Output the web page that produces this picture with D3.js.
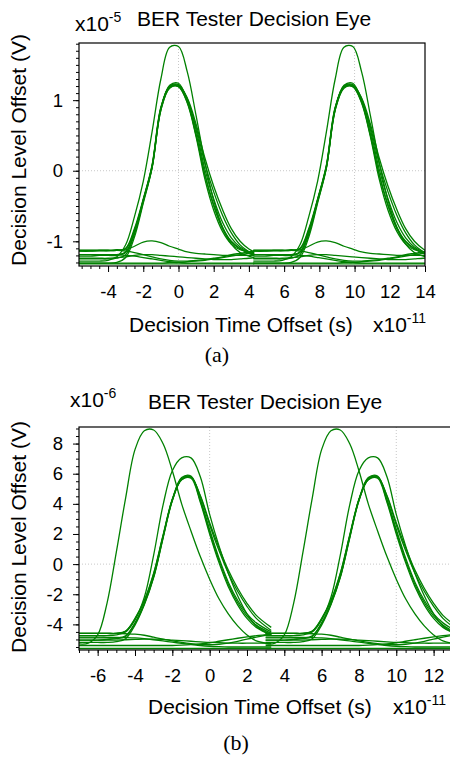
<!DOCTYPE html>
<html>
<head>
<meta charset="utf-8">
<title>BER Tester Decision Eye</title>
<script src="https://cdnjs.cloudflare.com/ajax/libs/d3/7.8.5/d3.min.js"></script>
<style>
  body { margin: 0; background: #fff; }
  svg { display: block; font-family: "Liberation Sans", Arial, sans-serif; }
  .trace { fill: none; stroke: #008000; stroke-width: 1.3px; }
  .grid { stroke: #c8c8c8; stroke-width: 1px; stroke-dasharray: 1,2; }
  .frame { fill: none; stroke: #000; stroke-width: 1.2px; }
  .axis path { display: none; }
  .axis line { stroke: #000; }
  .axis text { font-size: 18.5px; fill: #000; font-family: "Liberation Sans", Arial, sans-serif; }
  .lbl { font-size: 21px; fill: #000; }
  .cap { font-family: "Liberation Serif", "Times New Roman", serif; font-size: 22px; }
</style>
</head>
<body>
<script>
// ---------- panel (a) : values in 1e-11 s and 1e-5 V, one unit interval ----------
var timeA = [-5.65, -5, -4.5, -4, -3.5, -3, -2.5, -2, -1.5, -1, -0.5, 0, 0.5, 1, 1.5, 2, 2.5, 3, 3.5, 4, 4.3];
var periodA = 9.9;
var pulseA1 = [-1.13,-1.13,-1.13,-1.13,-1.13,-1.10,-0.82,-0.40,0.08,0.90,1.19,1.19,0.96,0.48,-0.12,-0.56,-0.86,-1.04,-1.12,-1.15,-1.16];
var pulseA2 = [-1.19,-1.19,-1.19,-1.19,-1.19,-1.15,-0.87,-0.42,0.06,0.88,1.20,1.22,1.02,0.58,0.02,-0.40,-0.73,-0.95,-1.08,-1.15,-1.18];
var pulseA3 = [-1.25,-1.25,-1.25,-1.25,-1.24,-1.19,-0.90,-0.44,0.04,0.86,1.18,1.20,1.00,0.62,0.10,-0.30,-0.63,-0.88,-1.05,-1.15,-1.20];
var pulseA4 = [-1.31,-1.31,-1.31,-1.31,-1.30,-1.23,-0.94,-0.46,0.04,0.88,1.21,1.24,0.99,0.52,-0.05,-0.48,-0.80,-1.00,-1.10,-1.17,-1.20];
var pulseA5 = [-1.13,-1.13,-1.13,-1.13,-1.13,-1.11,-0.84,-0.41,0.07,0.89,1.19,1.21,1.03,0.66,0.18,-0.22,-0.55,-0.82,-1.00,-1.11,-1.15];
var pulseA6 = [-1.21,-1.21,-1.20,-1.20,-1.20,-1.16,-0.88,-0.42,0.05,0.86,1.17,1.19,0.97,0.50,-0.06,-0.50,-0.82,-1.01,-1.11,-1.16,-1.18];
var tallA   = [-1.28,-1.28,-1.28,-1.27,-1.22,-1.05,-0.65,-0.15,0.55,1.30,1.75,1.76,1.40,0.78,0.12,-0.42,-0.80,-1.04,-1.16,-1.21,-1.23];
var bumpA   = [-1.14,-1.14,-1.13,-1.13,-1.12,-1.12,-1.07,-1.01,-0.995,-1.02,-1.07,-1.11,-1.15,-1.17,-1.18,-1.19,-1.20,-1.20,-1.20,-1.20,-1.20];
var lowA1   = [-1.13,-1.13,-1.13,-1.13,-1.13,-1.14,-1.16,-1.19,-1.22,-1.25,-1.27,-1.28,-1.28,-1.27,-1.26,-1.24,-1.22,-1.19,-1.17,-1.15,-1.14];
var lowA2   = [-1.19,-1.19,-1.19,-1.19,-1.19,-1.20,-1.21,-1.23,-1.25,-1.27,-1.29,-1.30,-1.31,-1.31,-1.31,-1.31,-1.31,-1.31,-1.31,-1.31,-1.31];
var lowA3   = [-1.31,-1.31,-1.31,-1.31,-1.31,-1.31,-1.31,-1.31,-1.31,-1.31,-1.30,-1.30,-1.29,-1.28,-1.27,-1.25,-1.23,-1.21,-1.19,-1.17,-1.16];
var lowA4   = [-1.32,-1.32,-1.32,-1.32,-1.32,-1.32,-1.32,-1.32,-1.32,-1.32,-1.32,-1.32,-1.32,-1.32,-1.32,-1.32,-1.32,-1.32,-1.32,-1.32,-1.32];
var lowA5   = [-1.24,-1.24,-1.24,-1.24,-1.23,-1.22,-1.20,-1.19,-1.19,-1.20,-1.21,-1.22,-1.23,-1.24,-1.25,-1.26,-1.26,-1.26,-1.25,-1.24,-1.23];
var xTicksA = [-4, -2, 0, 2, 4, 6, 8, 10, 12, 14];
var yTicksA = [-1, 0, 1];

// ---------- panel (b) : values in 1e-11 s and 1e-6 V ----------
var timeB = [-7, -6.5, -6, -5.5, -5, -4.5, -4, -3.5, -3, -2.5, -2, -1.5, -1, -0.5, 0, 0.5, 1, 1.5, 2, 2.5, 3.3];
var periodB = 10;
var pulseB1 = [-4.6,-4.6,-4.6,-4.6,-4.6,-4.45,-3.6,-2.4,-0.6,1.9,4.3,5.6,5.7,4.1,2.0,0.1,-1.5,-2.7,-3.6,-4.2,-4.7];
var pulseB2 = [-4.9,-4.9,-4.9,-4.9,-4.9,-4.75,-3.9,-2.6,-0.8,1.8,4.3,5.75,5.85,4.3,2.3,0.4,-1.2,-2.4,-3.3,-3.9,-4.5];
var pulseB3 = [-5.2,-5.2,-5.2,-5.2,-5.15,-4.95,-4.05,-2.7,-0.9,1.7,4.2,5.65,5.8,4.5,2.6,0.9,-0.6,-1.8,-2.8,-3.6,-4.4];
var pulseB4 = [-4.6,-4.6,-4.6,-4.6,-4.6,-4.45,-3.65,-2.45,-0.65,1.85,4.25,5.6,5.75,4.55,2.75,1.1,-0.4,-1.6,-2.6,-3.4,-4.2];
var pulseB5 = [-5.05,-5.05,-5.05,-5.0,-4.95,-4.8,-3.95,-2.65,-0.85,1.75,4.25,5.7,5.8,4.2,2.15,0.25,-1.35,-2.55,-3.45,-4.05,-4.6];
var tallB   = [-5.3,-5.25,-4.7,-2.6,0.8,4.4,7.6,8.85,8.9,8.0,6.2,4.0,2.2,0.5,-1.0,-2.3,-3.3,-4.1,-4.7,-5.1,-5.3];
var midB    = [-4.75,-4.75,-4.75,-4.75,-4.7,-4.5,-3.7,-2.2,0.6,3.9,6.2,7.05,7.05,5.8,3.3,1.2,-0.6,-2.1,-3.3,-4.1,-4.7];
var lowB1   = [-4.6,-4.6,-4.6,-4.6,-4.6,-4.62,-4.65,-4.72,-4.85,-4.98,-5.1,-5.2,-5.28,-5.33,-5.35,-5.32,-5.25,-5.12,-4.98,-4.85,-4.65];
var lowB2   = [-4.85,-4.85,-4.85,-4.86,-4.87,-4.88,-4.9,-4.95,-5.02,-5.1,-5.18,-5.26,-5.33,-5.4,-5.45,-5.48,-5.5,-5.5,-5.5,-5.5,-5.5];
var lowB3   = [-5.4,-5.4,-5.4,-5.4,-5.4,-5.4,-5.4,-5.4,-5.4,-5.4,-5.4,-5.38,-5.35,-5.3,-5.22,-5.12,-5.02,-4.92,-4.83,-4.75,-4.65];
var lowB4   = [-5.6,-5.6,-5.6,-5.6,-5.6,-5.6,-5.6,-5.6,-5.6,-5.6,-5.6,-5.6,-5.6,-5.6,-5.6,-5.6,-5.6,-5.6,-5.6,-5.6,-5.6];
var lowB5   = [-5.05,-5.05,-5.05,-5.05,-5.04,-5.02,-5.0,-4.98,-4.98,-5.0,-5.04,-5.08,-5.12,-5.16,-5.2,-5.22,-5.24,-5.25,-5.25,-5.25,-5.25];
var xTicksB = [-6, -4, -2, 0, 2, 4, 6, 8, 10, 12];
var yTicksB = [-4, -2, 0, 2, 4, 6, 8];

var gridX = [0, 10];
var gridY = [0];

var svg = d3.select("body").append("svg")
	.attr("width", 450)
	.attr("height", 757);

function drawPanel(p) {
	var x = d3.scaleLinear().domain(p.xDomain).range([p.left, p.right]);
	var y = d3.scaleLinear().domain(p.yDomain).range([p.bottom, p.top]);
	var g = svg.append("g");

	g.append("clipPath").attr("id", p.id)
		.append("rect")
		.attr("x", p.left).attr("y", p.top)
		.attr("width", p.right - p.left).attr("height", p.bottom - p.top);

	g.selectAll("line.gx").data(gridX).enter().append("line")
		.attr("class", "grid")
		.attr("x1", function(d) { return x(d); }).attr("x2", function(d) { return x(d); })
		.attr("y1", p.top).attr("y2", p.bottom);
	g.selectAll("line.gy").data(gridY).enter().append("line")
		.attr("class", "grid")
		.attr("x1", p.left).attr("x2", p.right)
		.attr("y1", function(d) { return y(d); }).attr("y2", function(d) { return y(d); });

	// every trace is one unit interval, drawn again one period later
	var lines = [];
	p.traces.forEach(function(tr) {
		[0, p.period].forEach(function(off) {
			lines.push(p.times.map(function(t, i) { return { t: t + off, v: tr[i] }; }));
		});
	});

	var line = d3.line()
		.x(function(d) { return x(d.t); })
		.y(function(d) { return y(d.v); })
		.curve(d3.curveCatmullRom.alpha(0.5));

	g.append("g").attr("clip-path", "url(#" + p.id + ")")
		.selectAll("path").data(lines).enter().append("path")
		.attr("class", "trace")
		.attr("d", line);

	g.append("rect").attr("class", "frame")
		.attr("x", p.left).attr("y", p.top)
		.attr("width", p.right - p.left).attr("height", p.bottom - p.top);

	// minor ticks
	g.append("g").attr("class", "axis")
		.attr("transform", "translate(0," + p.bottom + ")")
		.call(d3.axisBottom(x).tickValues(d3.range(Math.ceil(p.xDomain[0] * 2) / 2, p.xDomain[1] + 0.01, 0.5))
			.tickSize(3).tickFormat(""));
	g.append("g").attr("class", "axis")
		.attr("transform", "translate(" + p.left + ",0)")
		.call(d3.axisLeft(y).tickValues(d3.range(Math.ceil(p.yDomain[0] / p.yMinor) * p.yMinor, p.yDomain[1], p.yMinor))
			.tickSize(3).tickFormat(""));
	// major ticks and labels
	g.append("g").attr("class", "axis")
		.attr("transform", "translate(0," + p.bottom + ")")
		.call(d3.axisBottom(x).tickValues(p.xTicks).tickSize(6).tickPadding(13).tickFormat(d3.format("d")));
	g.append("g").attr("class", "axis")
		.attr("transform", "translate(" + p.left + ",0)")
		.call(d3.axisLeft(y).tickValues(p.yTicks).tickSize(6).tickPadding(10).tickFormat(d3.format("d")));
	g.selectAll(".axis text").text(function() { return this.textContent.replace("\u2212", "-"); });

	// texts
	var ex = g.append("text").attr("class", "lbl").attr("x", p.yExp[0]).attr("y", p.yExp[1]).text("x10");
	ex.append("tspan").attr("dy", -9).attr("font-size", 14).text(p.yExp[2]);
	g.append("text").attr("class", "lbl").attr("x", p.title[0]).attr("y", p.title[1])
		.text("BER Tester Decision Eye");
	g.append("text").attr("class", "lbl").attr("text-anchor", "middle")
		.attr("transform", "translate(26," + p.ylab + ") rotate(-90)")
		.text("Decision Level Offset (V)");
	g.append("text").attr("class", "lbl").attr("x", p.xlab[0]).attr("y", p.xlab[1])
		.text("Decision Time Offset (s)");
	var xe = g.append("text").attr("class", "lbl").attr("x", p.xExp[0]).attr("y", p.xlab[1]).text("x10");
	xe.append("tspan").attr("dy", -9).attr("font-size", 14).text("-11");
	g.append("text").attr("class", "cap").attr("text-anchor", "middle")
		.attr("x", p.cap[0]).attr("y", p.cap[1]).text(p.cap[2]);
}

drawPanel({
	id: "clipA", left: 79, right: 425, top: 43, bottom: 266,
	xDomain: [-5.65, 14], yDomain: [-1.35, 1.81], yMinor: 0.1,
	times: timeA, period: periodA,
	traces: [lowA1, lowA2, lowA3, lowA4, lowA5, bumpA, tallA, pulseA1, pulseA2, pulseA3, pulseA4, pulseA5, pulseA6],
	xTicks: xTicksA, yTicks: yTicksA,
	yExp: [75, 31, "-5"], title: [137, 26], ylab: 150, xlab: [129, 332], xExp: [373], cap: [217, 362, "(a)"]
});

drawPanel({
	id: "clipB", left: 79, right: 456, top: 427, bottom: 650,
	xDomain: [-7, 13.2], yDomain: [-5.7, 9.1], yMinor: 0.5,
	times: timeB, period: periodB,
	traces: [lowB1, lowB2, lowB3, lowB4, lowB5, tallB, midB, pulseB1, pulseB2, pulseB3, pulseB4, pulseB5],
	xTicks: xTicksB, yTicks: yTicksB,
	yExp: [70, 407, "-6"], title: [148, 409], ylab: 537, xlab: [148, 714], xExp: [393], cap: [236, 750, "(b)"]
});
</script>
</body>
</html>
